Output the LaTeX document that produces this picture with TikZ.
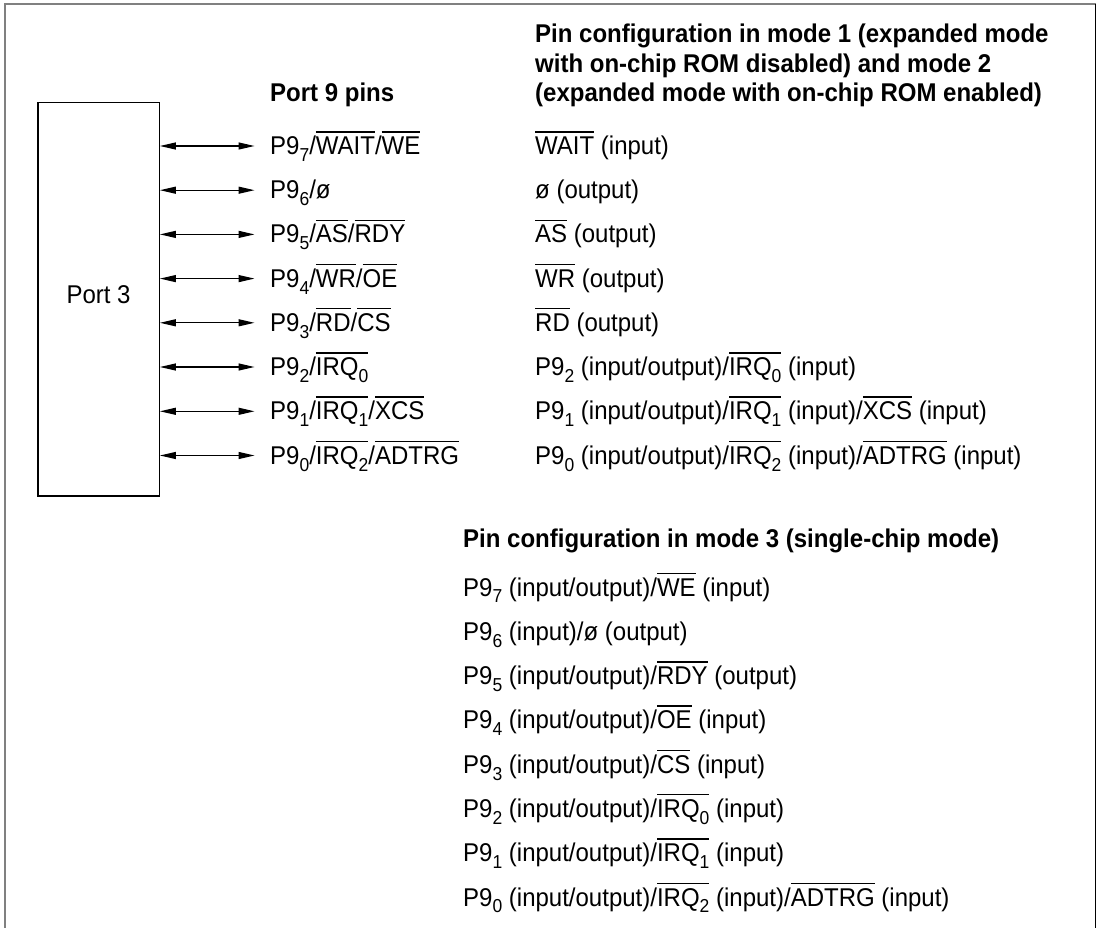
\documentclass[tikz,border=0pt]{standalone}
\usepackage{fontspec}
\setmainfont{Liberation Sans}
\usetikzlibrary{arrows.meta}
\newcommand\ovbar[1]{\setbox0=\hbox{#1}\rlap{\rule[0.86em]{\wd0}{0.055em}}\box0\relax}
\newcommand\sbs[1]{\raisebox{-0.27em}{\fontsize{17.5}{20}\selectfont #1}}
\newcommand\vst[1]{\scalebox{1}[1.07]{#1}}
\tikzset{
  txt/.style={anchor=base west, inner sep=0pt, font=\fontsize{24}{29}\selectfont},
  hdr/.style={anchor=base west, inner sep=0pt, font=\fontsize{24}{29}\selectfont\bfseries},
  portbox/.style={draw, line width=1.3pt, inner sep=0pt, minimum width=121.3pt, minimum height=393.3pt},
  lbl/.style={inner sep=0pt, font=\fontsize{24}{29}\selectfont},
  pinarrow/.style={line width=1.2pt, {Triangle[length=16pt,width=7pt]}-{Triangle[length=16pt,width=7pt]}}
}
\begin{document}
\begin{tikzpicture}[x=1pt,y=-1pt]
\useasboundingbox (0,0) rectangle (1101,928);
\draw[line width=2pt, gray] (4.5,928) -- (4.5,4.5) -- (1095.5,4.5);
\draw[line width=1.5pt] (1095.5,4.5) -- (1095.5,928);

\node[portbox] (port3) at (98.6,299.4) {};
\node[lbl] (port3label) at (98.6,295) {\vst{Port 3}};

\node[hdr] (h9) at (270,102) {\vst{Port 9 pins}};
\node[hdr] (h1a) at (535,43) {\vst{Pin configuration in mode 1 (expanded mode}};
\node[hdr] (h1b) at (535,72.5) {\vst{with on-chip ROM disabled) and mode 2}};
\node[hdr] (h1c) at (535,102) {\vst{(expanded mode with on-chip ROM enabled)}};

% port 9 pin names
\node[txt] (p7) at (270,154.6) {\vst{P9\sbs{7}/\ovbar{WAIT}/\ovbar{WE}}};
\node[txt] (p6) at (270,198.8) {\vst{P9\sbs{6}/ø}};
\node[txt] (p5) at (270,243) {\vst{P9\sbs{5}/\ovbar{AS}/\ovbar{RDY}}};
\node[txt] (p4) at (270,287.2) {\vst{P9\sbs{4}/\ovbar{WR}/\ovbar{OE}}};
\node[txt] (p3) at (270,331.4) {\vst{P9\sbs{3}/\ovbar{RD}/\ovbar{CS}}};
\node[txt] (p2) at (270,375.6) {\vst{P9\sbs{2}/\ovbar{IRQ\sbs{0}}}};
\node[txt] (p1) at (270,419.9) {\vst{P9\sbs{1}/\ovbar{IRQ\sbs{1}}/\ovbar{XCS}}};
\node[txt] (p0) at (270,464.1) {\vst{P9\sbs{0}/\ovbar{IRQ\sbs{2}}/\ovbar{ADTRG}}};

% arrows from Port 3 to the pin names
\foreach \n/\y in {7/146,6/190.2,5/234.4,4/278.6,3/322.8,2/367,1/411.3,0/455.5}{
  \coordinate (e\n) at (254.5,\y);
  \draw[pinarrow] (port3.east |- e\n) -- (e\n);
}

% mode 1/2
\node[txt] (m7) at (535,154.6) {\vst{\ovbar{WAIT} (input)}};
\node[txt] (m6) at (535,198.8) {\vst{ø (output)}};
\node[txt] (m5) at (535,243) {\vst{\ovbar{AS} (output)}};
\node[txt] (m4) at (535,287.2) {\vst{\ovbar{WR} (output)}};
\node[txt] (m3) at (535,331.4) {\vst{\ovbar{RD} (output)}};
\node[txt] (m2) at (535,375.6) {\vst{P9\sbs{2} (input/output)/\ovbar{IRQ\sbs{0}} (input)}};
\node[txt] (m1) at (535,419.9) {\vst{P9\sbs{1} (input/output)/\ovbar{IRQ\sbs{1}} (input)/\ovbar{XCS} (input)}};
\node[txt] (m0) at (535,464.1) {\vst{P9\sbs{0} (input/output)/\ovbar{IRQ\sbs{2}} (input)/\ovbar{ADTRG} (input)}};

% mode 3
\node[hdr] (h3) at (463,547) {\vst{Pin configuration in mode 3 (single-chip mode)}};
\node[txt] (s7) at (463,596) {\vst{P9\sbs{7} (input/output)/\ovbar{WE} (input)}};
\node[txt] (s6) at (463,640.3) {\vst{P9\sbs{6} (input)/ø (output)}};
\node[txt] (s5) at (463,684.6) {\vst{P9\sbs{5} (input/output)/\ovbar{RDY} (output)}};
\node[txt] (s4) at (463,728.9) {\vst{P9\sbs{4} (input/output)/\ovbar{OE} (input)}};
\node[txt] (s3) at (463,773.2) {\vst{P9\sbs{3} (input/output)/\ovbar{CS} (input)}};
\node[txt] (s2) at (463,817.5) {\vst{P9\sbs{2} (input/output)/\ovbar{IRQ\sbs{0}} (input)}};
\node[txt] (s1) at (463,861.8) {\vst{P9\sbs{1} (input/output)/\ovbar{IRQ\sbs{1}} (input)}};
\node[txt] (s0) at (463,906) {\vst{P9\sbs{0} (input/output)/\ovbar{IRQ\sbs{2}} (input)/\ovbar{ADTRG} (input)}};
\end{tikzpicture}
\end{document}
